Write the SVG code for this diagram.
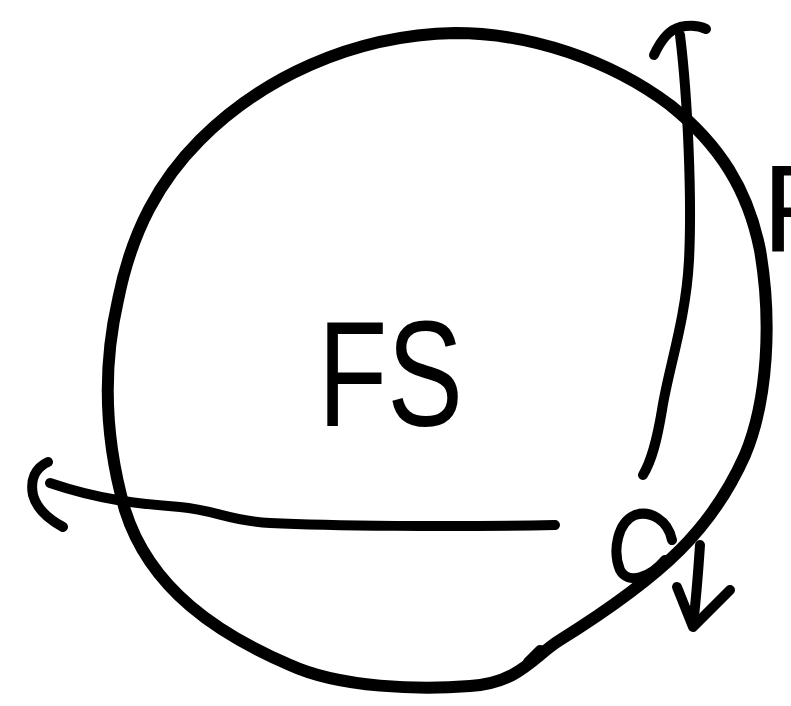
<svg xmlns="http://www.w3.org/2000/svg" width="791" height="706" viewBox="0 0 791 706">
<style>
.ink{fill:none;stroke:#000;stroke-linecap:round;stroke-linejoin:round}
.thick{stroke-width:12}
.med{stroke-width:10}
.hand{font-family:"Liberation Sans","DejaVu Sans",sans-serif;fill:#000}
</style>
<rect width="791" height="706" fill="#fff"/>
<g id="fs">
<path class="ink thick" d="M 455,33 C 530,33 610,60 670,105 C 720,145 748,190 760,250 C 772,320 768,400 745,455 C 725,500 700,530 680,550 C 650,580 600,615 560,640 C 535,655 520,683 470,686 C 420,690 340,688 290,665 C 220,635 150,590 125,510 C 105,440 102,370 118,300 C 132,230 160,180 200,140 C 260,80 350,35 455,33 Z"/>
<path class="ink med" d="M 528,662 L 540,650"/>
<text class="hand" x="318" y="426" font-size="150" textLength="145" lengthAdjust="spacingAndGlyphs">FS</text>
</g>
<g id="point">
<path class="ink med" d="M 672,540 C 668,520 650,510 635,515 C 618,522 612,550 620,570 C 628,585 650,578 665,560"/>
</g>
<g id="label-f">
<text class="hand" x="762" y="252" font-size="125">F</text>
</g>
<g id="connectors">
<path class="ink med" d="M 680,35 C 688,100 692,200 689,260 C 686,320 668,370 662,410 C 657,440 652,460 643,475"/>
<path class="ink med" d="M 654,55 C 660,42 668,30 680,27 C 690,25 700,26 706,29"/>
<path class="ink med" d="M 700,545 C 698,575 696,600 693,625"/>
<path class="ink med" d="M 677,587 L 693,627 L 730,590"/>
<path class="ink med" d="M 555,525 C 450,527 330,526 270,523 C 230,521 215,510 180,507 C 140,504 100,500 50,483"/>
<path class="ink med" d="M 48,462 C 35,468 30,480 33,495 C 37,510 50,520 63,527"/>
</g>
</svg>
